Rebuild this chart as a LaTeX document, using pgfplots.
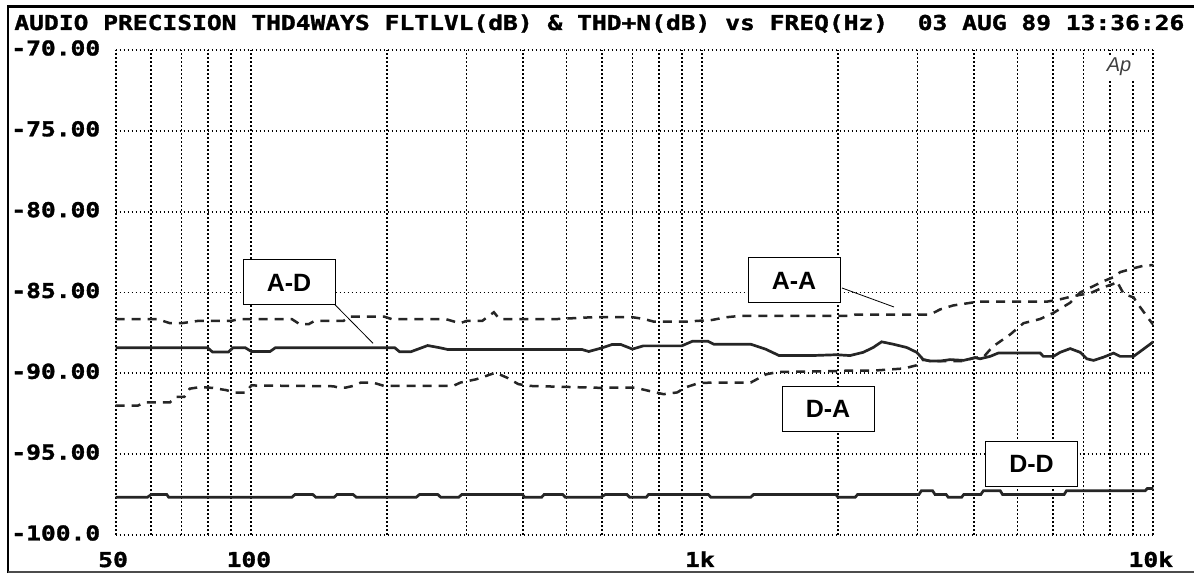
\documentclass[border=0pt]{standalone}
\usepackage{fontspec}
\setmainfont{Liberation Sans}
\newfontfamily\pixfont[FakeStretch=1.2,FakeBold=1.5]{DejaVu Sans Mono}
\newfontfamily\lblfont{Liberation Sans}
\usepackage{pgfplots}
\pgfplotsset{compat=1.18}
\begin{document}
\begin{tikzpicture}[x=1pt,y=1pt]
\useasboundingbox (0,0) rectangle (597,286.5);
\begin{axis}[
  at={(57.8pt,19pt)}, anchor=south west, scale only axis,
  width=518.85pt, height=242.5pt,
  xmode=log, xmin=50, xmax=10000, ymin=-100, ymax=-70,
  axis lines=left, axis line style={draw=none,-},
  xtick={50,100,1000,10000}, xticklabels={50,100,1k,10k},
  minor xtick={60,70,80,90,200,300,400,500,600,700,800,900,2000,3000,4000,5000,6000,7000,8000,9000},
  ytick={-100,-95,-90,-85,-80,-75,-70},
  yticklabels={-100.0,-95.00,-90.00,-85.00,-80.00,-75.00,-70.00},
  grid=both,
  major grid style={black, line width=0.9pt, dash pattern=on 0.8pt off 1.2pt},
  minor grid style={black, line width=0.9pt, dash pattern=on 0.8pt off 1.2pt},
  major tick length=0pt, minor tick length=0pt,
  ticklabel style={font=\pixfont\bfseries\fontsize{10.25}{12}\selectfont, inner sep=0pt},
  xticklabel style={anchor=base, yshift=-16pt, xshift=-1.25pt},
  yticklabel style={anchor=east, xshift=-7.5pt, yshift=1pt},
]
% A-D solid
\addplot[line width=1.35pt, color=black!85] coordinates {
(50,-88.42) (80,-88.42) (82,-88.68) (89,-88.68) (91,-88.42) (97,-88.42) (100,-88.65) (110,-88.65) (113,-88.42)
(208,-88.42) (213,-88.66) (226,-88.66) (246,-88.28) (262,-88.42) (272,-88.52) (540,-88.52) (560,-88.65)
(600,-88.42) (630,-88.22) (660,-88.22) (700,-88.5) (740,-88.3) (900,-88.3) (950,-88.02) (1030,-88.02)
(1060,-88.2) (1280,-88.2) (1380,-88.5) (1480,-88.9) (1750,-88.9) (1980,-88.85) (2125,-88.9)
(2274,-88.7) (2393,-88.4) (2498,-88.05) (2651,-88.2) (2838,-88.4) (2988,-88.7) (3090,-89.15)
(3200,-89.24) (3370,-89.24) (3543,-89.15) (3793,-89.2) (4024,-89.03) (4130,-89.1) (4347,-88.95)
(4536,-88.74) (5611,-88.74) (5705,-88.95) (6006,-88.95) (6215,-88.7) (6541,-88.47) (6885,-88.7)
(7121,-89.1) (7369,-89.2) (7756,-89.0) (8161,-88.75) (8444,-88.95) (9041,-88.95) (9510,-88.5) (10000,-88.05)
};
% A-A dashed
\addplot[line width=1.25pt, color=black!85, dash pattern=on 4.5pt off 3.5pt] coordinates {
(50,-86.65) (62,-86.65) (66,-86.9) (70,-86.9) (76,-86.76) (90,-86.76) (94,-86.65) (123,-86.65)
(128,-86.96) (134,-86.96) (138,-86.76) (160,-86.76) (165,-86.49) (197,-86.49) (205,-86.65) (270,-86.65)
(290,-86.9) (300,-86.76) (325,-86.76) (345,-86.22) (355,-86.65) (470,-86.65) (570,-86.53) (700,-86.53)
(740,-86.63) (780,-86.8) (920,-86.8) (1050,-86.7) (1130,-86.53) (1210,-86.45) (2125,-86.45)
(2180,-86.37) (3198,-86.37) (3365,-86.05) (3600,-85.8) (3950,-85.63) (4130,-85.57) (5800,-85.57)
(6215,-85.42) (6700,-85.2) (7250,-85.04) (7750,-84.68) (8150,-84.47) (8300,-84.3) (8600,-85.1)
(9041,-85.3) (9195,-85.63) (9800,-86.68) (10000,-87.0)
};
% D-A dashed
\addplot[line width=1.25pt, color=black!85, dash pattern=on 4.5pt off 3.5pt] coordinates {
(50,-92.0) (56,-92.0) (58,-91.8) (66,-91.8) (68,-91.46) (71,-91.46) (73,-90.95) (77,-90.85)
(82,-90.9) (88,-91.04) (92,-91.2) (97,-91.2) (100,-90.75) (152,-90.8) (156,-90.88) (162,-90.88)
(168,-90.78) (175,-90.57) (186,-90.57) (197,-90.78) (280,-90.78) (291,-90.57) (315,-90.37) (348,-89.96)
(369,-90.27) (391,-90.67) (415,-90.78) (600,-90.9) (616,-90.88) (708,-90.88) (760,-91.08) (820,-91.29)
(880,-91.18) (915,-90.88) (980,-90.61) (1050,-90.57) (1280,-90.57) (1385,-90.06) (1470,-89.92)
(1977,-89.86) (2125,-89.83) (2400,-89.83) (2800,-89.7) (2988,-89.5) (3090,-89.15) (3200,-89.24)
(3793,-89.24) (4024,-89.03) (4200,-89.0) (4400,-88.36) (4813,-87.6) (5153,-86.9) (5611,-86.64)
(6006,-86.26) (6541,-85.63) (6885,-85.0) (7369,-84.6) (7756,-84.3) (8161,-84.05) (8444,-83.74)
(9041,-83.5) (9500,-83.35) (10000,-83.3)
};
% D-D solid
\addplot[line width=1.35pt, color=black!85] coordinates {
(50,-97.67) (58.8,-97.67) (60,-97.49) (64.9,-97.49) (65.6,-97.67) (122.9,-97.67) (125,-97.49)
(136.8,-97.49) (139,-97.67) (152.5,-97.67) (155,-97.49) (168,-97.49) (171,-97.67) (232,-97.67)
(236,-97.49) (259,-97.49) (263,-97.67) (288,-97.67) (293,-97.49) (398.7,-97.49) (404,-97.67)
(440,-97.67) (446,-97.49) (490,-97.49) (497,-97.67) (595,-97.67) (610,-97.49) (680,-97.49)
(690,-97.67) (751,-97.67) (760,-97.49) (1030,-97.49) (1045,-97.67) (1280,-97.67) (1300,-97.49)
(1977,-97.49) (2000,-97.67) (2182,-97.67) (2210,-97.49) (3023,-97.49) (3060,-97.26) (3240,-97.26)
(3280,-97.49) (3472,-97.49) (3510,-97.67) (3757,-97.67) (3800,-97.49) (4146,-97.49) (4200,-97.26)
(4576,-97.26) (4630,-97.49) (6344,-97.49) (6420,-97.26) (9596,-97.26) (9700,-97.12) (10000,-97.12)
};
\end{axis}
% frame
\draw[line width=1.5pt] (4,283.25) -- (597,283.25);
\draw[line width=1.25pt] (4,0) -- (4,284);
\draw[line width=0.8pt, black!70] (4,0.4) -- (597,0.4);
% title
\node[anchor=base west, inner sep=0pt, font=\pixfont\bfseries\fontsize{10.25}{12}\selectfont]
  at (7,271.5) {AUDIO PRECISION THD4WAYS FLTLVL(dB) \& THD+N(dB) vs FREQ(Hz)~~03 AUG 89 13:36:26};
% Ap logo
\node[font=\lblfont\itshape\fontsize{10}{10}\selectfont, text=black!75, fill=white, inner sep=1.5pt,
  minimum width=22pt, minimum height=11pt] at (559.5,253) {Ap};
% leaders
\draw[line width=0.4pt] (166,135.65) -- (186.5,114.85);
\draw[line width=0.4pt] (421,142.5) -- (447,133);
% label boxes
\tikzset{lbl/.style={draw, line width=0.5pt, fill=white, minimum width=46pt, minimum height=22.5pt, inner sep=0pt,
  font=\lblfont\bfseries\fontsize{12.5}{13}\selectfont}}
\node[lbl] at (144.5,145.25) {A-D};
\node[lbl] at (397,146.25) {A-A};
\node[lbl] at (414,82) {D-A};
\node[lbl] at (515.75,54.4) {D-D};
\end{tikzpicture}
\end{document}
